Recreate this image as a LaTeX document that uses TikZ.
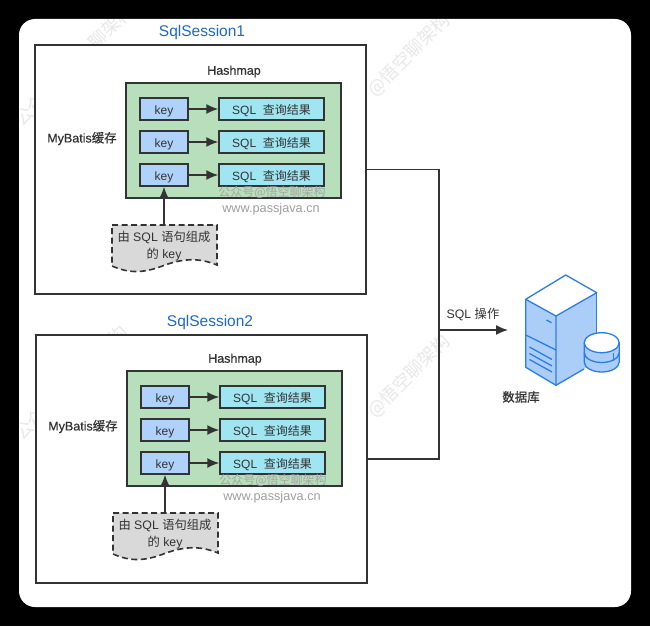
\documentclass[tikz,border=0pt]{standalone}
\usepackage{fontspec}
\setmainfont{Liberation Sans}
\newfontfamily\cjk{Noto Sans CJK SC}
\newfontfamily\headfont[FakeBold=0.6]{Liberation Sans}
\newfontfamily\cjkhead[FakeBold=0.6]{Noto Sans CJK SC}
\usetikzlibrary{arrows.meta}
\definecolor{linegray}{HTML}{333333}
\definecolor{keyblue}{HTML}{AED2FA}
\definecolor{resultcyan}{HTML}{9FE6F2}
\definecolor{mapgreen}{HTML}{B7DFBB}
\definecolor{docgray}{HTML}{D9D9D9}
\definecolor{titleblue}{HTML}{1F69C9}
\definecolor{iconblue}{HTML}{2A7DE6}
\definecolor{iconfill}{HTML}{ABCEF9}
\tikzstyle{sessionbox}=[draw=linegray,line width=1.4pt,fill=white,inner sep=0pt]
\tikzstyle{mapbox}=[draw=linegray,line width=1.4pt,fill=mapgreen,minimum width=215pt,minimum height=115pt,inner sep=0pt]
\tikzstyle{keybox}=[draw=linegray,line width=1.4pt,fill=keyblue,minimum width=48pt,minimum height=22pt,inner sep=0pt,font=\fontsize{12}{14}\selectfont,text=linegray,text height=10pt,text depth=0pt]
\tikzstyle{resultbox}=[draw=linegray,line width=1.4pt,fill=resultcyan,minimum width=105pt,minimum height=22pt,inner sep=0pt,font=\fontsize{12}{14}\selectfont,text=linegray,text height=10pt,text depth=0pt]
\tikzstyle{flow}=[-{Latex[length=12pt,width=10pt]},line width=1.5pt,draw=linegray]
\tikzstyle{wire}=[line width=1.4pt,draw=linegray]
\tikzstyle{plaintext}=[inner sep=0pt,text=linegray,font=\fontsize{12.3}{16}\selectfont]
\tikzstyle{headtext}=[inner sep=0pt,text=linegray,font=\fontsize{12.5}{15}\selectfont\headfont]
\tikzstyle{marktext}=[inner sep=0pt,text=gray!75,font=\fontsize{12.7}{15}\selectfont]
\tikzstyle{titletext}=[inner sep=0pt,text=titleblue,font=\fontsize{15.5}{18}\selectfont]
\tikzstyle{watertext}=[rotate=45,anchor=west,inner sep=0pt,text=gray!18,font=\fontsize{18}{20}\selectfont]
\tikzstyle{iconline}=[draw=iconblue,line width=1.3pt,line join=round]
\newcommand{\zh}[1]{{\cjk #1}}
\newcommand{\zhhead}[1]{{\cjkhead #1}}
\newcommand{\hashblock}[1]{% #1 = prefix of the node names
  \node[mapbox] (#1map) at (233.5,140.5) {};
  \node[headtext] (#1head) at (234,71.5) {Hashmap};
  \node[headtext] (#1cache) at (82,138.5) {MyBatis\zhhead{缓存}};
  \foreach \row/\y in {1/109,2/142,3/175} {
    \node[keybox] (#1key\row) at (164,\y) {key};
    \node[resultbox] (#1res\row) at (271.5,\y) {SQL\ \ \zh{查询结果}};
    \draw[flow] (#1key\row) -- (#1res\row);
  }
  \node[marktext,font=\fontsize{12}{14}\selectfont,text=gray!70] (#1wechat) at (272,192.5) {\zh{公众号@悟空聊架构}};
  \node[marktext] (#1site) at (271,209.5) {www.passjava.cn};
  \draw[line width=1.6pt,draw=linegray,dash pattern=on 6pt off 3.5pt,fill=docgray]
    (112,225) -- (217,225) -- (217,265) .. controls (200,258) and (185,258) .. (165,265)
    .. controls (145,273) and (130,274) .. (112,266) -- cycle;
  \node[inner sep=0pt,minimum width=105pt,minimum height=44pt] (#1doc) at (164,247) {};
  \node[plaintext,align=center] (#1doctext) at (164,246) {\zh{由}\ SQL\ \zh{语句组成}\\[0.5pt]\zh{的}\ key};
  \draw[flow] (#1doc.north) -- (#1key3.south);
}
\begin{document}
\begin{tikzpicture}[x=1pt,y=-1pt]
\useasboundingbox (0,0) rectangle (650,626);
\fill[black] (0,0) rectangle (650,626);
\fill[white,rounded corners=16pt] (19,19) rectangle (631,607);
\begin{scope}
  \clip[rounded corners=16pt] (19,19) rectangle (631,607);
  \node[watertext] (waterlefta) at (17,123) {\zh{公众}};
  \node[watertext] (watertopa) at (92,46) {\zh{聊架构}};
  \node[watertext] (waterrighta) at (371,93) {\zh{@悟空聊架构}};
  \node[watertext] (waterleftb) at (17,437) {\zh{公众}};
  \node[watertext] (watertopb) at (112,342) {\zh{构}};
  \node[watertext] (waterrightb) at (371,414) {\zh{@悟空聊架构}};
\end{scope}
\node[sessionbox,minimum width=331pt,minimum height=249pt] (boxone) at (200.5,169.5) {};
\node[sessionbox,minimum width=331pt,minimum height=248pt] (boxtwo) at (201.5,459) {};
\node[titletext] (titleone) at (202,32) {SqlSession1};
\node[titletext] (titletwo) at (210,322) {SqlSession2};
\hashblock{a}
\begin{scope}[shift={(1,288)}]
  \hashblock{b}
\end{scope}
% shared line to the database
\coordinate (hub) at (439,330);
\coordinate (dbin) at (508,330);
\draw[wire] (boxone.east) -| (hub) |- (boxtwo.east);
\draw[flow] (hub) -- (dbin);
\node[plaintext] (sqlop) at (473,314.5) {SQL\ \zh{操作}};
% database icon
\fill[iconfill] (525.7,299.3) -- (556,316) -- (596.7,292.7) -- (596.7,361.6) -- (556,385.3) -- (525.7,367.3) -- cycle;
\draw[iconline,fill=white] (525.7,299.3) -- (565.7,275) -- (596.7,292.7) -- (556,316) -- cycle;
\draw[iconline] (525.7,299.3) -- (525.7,367.3) -- (556,385.3) -- (556,316);
\draw[iconline] (556,385.3) -- (584,369);
\draw[iconline] (596.7,292.7) -- (596.7,335);
\draw[iconline] (525.7,335) -- (556,350);
\draw[iconline] (546.5,320) -- (551.5,322.7);
\foreach \y in {347,353.5,359.5} {
  \draw[iconline] (529.5,\y) -- (552,\y+12.5);
}
\draw[iconline,fill=iconfill] (584.2,342.7) -- (584.2,362) arc[start angle=180,end angle=0,x radius=17.5,y radius=10] -- (619.2,342.7) -- cycle;
\draw[iconline,fill=white] (601.7,342.7) ellipse[x radius=17.5,y radius=10];
\draw[iconline] (584.2,352.5) arc[start angle=180,end angle=0,x radius=17.5,y radius=10];
\draw[iconline] (613.5,353) -- (613.5,361);
\node[headtext] (dbname) at (521,397) {\zhhead{数据库}};
\end{tikzpicture}
\end{document}
